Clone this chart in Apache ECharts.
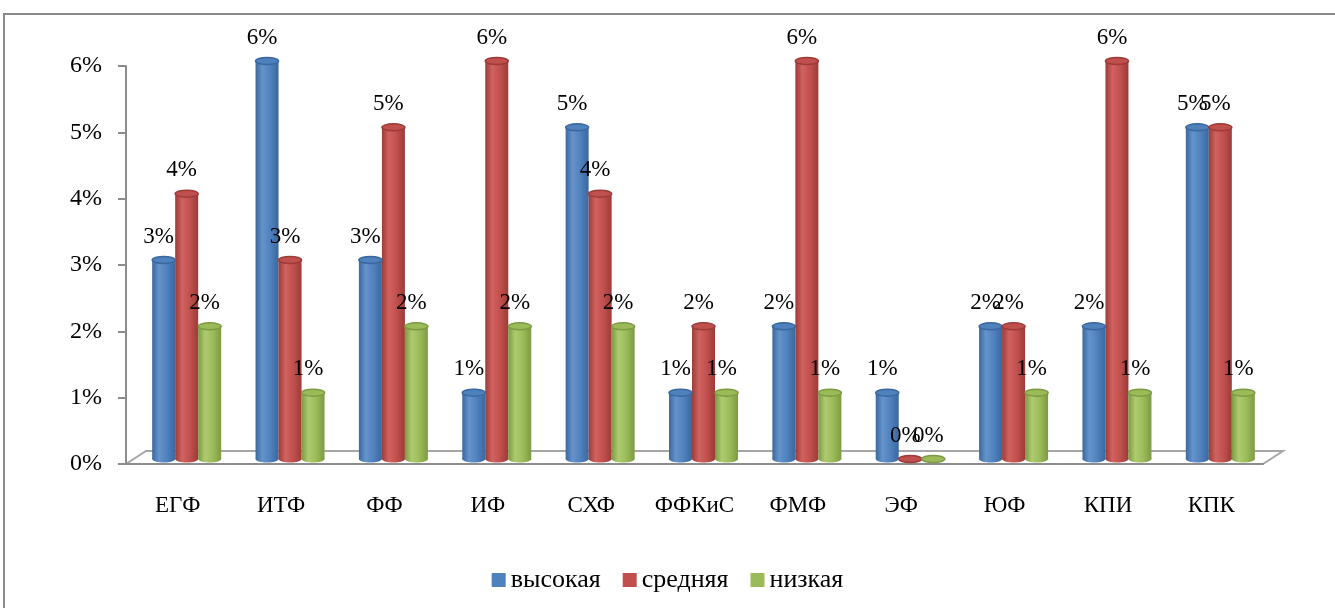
<!DOCTYPE html>
<html>
<head>
<meta charset="utf-8">
<script src="https://cdn.jsdelivr.net/npm/echarts@6/dist/echarts.min.js"></script>
<style>
  html, body { margin: 0; padding: 0; background: #fff; }
  #chart { width: 1335px; height: 608px; }
</style>
</head>
<body>
<div id="chart"></div>
<script>
// faculties
const categories = ['ЕГФ', 'ИТФ', 'ФФ', 'ИФ', 'СХФ', 'ФФКиС', 'ФМФ', 'ЭФ', 'ЮФ', 'КПИ', 'КПК'];
const seriesNames = ['высокая', 'средняя', 'низкая'];
const high = [3, 6, 3, 1, 5, 1, 2, 1, 2, 2, 5];
const mid = [4, 3, 5, 6, 4, 2, 6, 0, 2, 6, 5];
const low = [2, 1, 2, 2, 2, 1, 1, 0, 1, 1, 1];
const yTicks = [0, 1, 2, 3, 4, 5, 6];

const colors = ['#4F81BD', '#C0504D', '#9BBB59'];
const darks = ['#3A679E', '#9C3B38', '#7C9A43'];
const lights = ['#6593CB', '#D0625F', '#AECB6F'];
const font = 'Liberation Serif';
const values = [high, mid, low];
const barW = 23;

const chart = echarts.init(document.getElementById('chart'));

function gradient(i) {
    return new echarts.graphic.LinearGradient(0, 0, 1, 0, [
        { offset: 0, color: darks[i] },
        { offset: 0.3, color: lights[i] },
        { offset: 0.65, color: colors[i] },
        { offset: 1, color: darks[i] }
    ]);
}

const series = [];
values.forEach((data, i) => {
    series.push({
        name: seriesNames[i],
        type: 'bar',
        xAxisIndex: 1,
        yAxisIndex: 1,
        data: data,
        barWidth: barW,
        barGap: '0%',
        itemStyle: { color: gradient(i) },
        label: {
            show: true,
            position: 'top',
            distance: 12,
            offset: [-5, 0],
            formatter: p => p.value + '%',
            fontFamily: font,
            fontSize: 23,
            color: '#000'
        },
        z: 3
    });
});
// cylinder caps: top and bottom ellipses of each bar
values.forEach((data, i) => {
    series.push({
        type: 'custom',
        xAxisIndex: 1,
        yAxisIndex: 1,
        data: data.map((v, k) => [k, v]),
        encode: { x: 0, y: 1 },
        silent: true,
        z: 4,
        renderItem: (params, api) => {
            const top = api.coord([api.value(0), api.value(1)]);
            const base = api.coord([api.value(0), 0]);
            const cx = top[0] + (i - 1) * barW;
            return {
                type: 'group',
                children: [
                    {
                        type: 'ellipse',
                        shape: { cx: cx, cy: base[1], rx: barW / 2, ry: 3.5 },
                        style: { fill: gradient(i) },
                        z2: 1
                    },
                    {
                        type: 'ellipse',
                        shape: { cx: cx, cy: top[1], rx: barW / 2, ry: 3.5 },
                        style: { fill: colors[i], stroke: darks[i], lineWidth: 1.5 },
                        z2: 2
                    }
                ]
            };
        }
    });
});

chart.setOption({
    animation: false,
    legend: {
        data: seriesNames.map((n, i) => ({ name: n, itemStyle: { color: colors[i] } })),
        bottom: 10,
        left: 'center',
        icon: 'rect',
        itemWidth: 14,
        itemHeight: 14,
        itemGap: 22,
        textStyle: { fontFamily: font, fontSize: 26, color: '#000' }
    },
    graphic: [
        {
            type: 'rect',
            shape: { x: 4, y: 14, width: 1400, height: 700 },
            style: { fill: 'none', stroke: '#8a8a8a', lineWidth: 2 },
            silent: true
        },
        {
            type: 'polyline',
            shape: { points: [[126, 464], [146, 451], [1283, 451], [1263, 464]] },
            style: { fill: 'none', stroke: '#a6a6a6', lineWidth: 2 },
            silent: true,
            z: 0
        }
    ],
    grid: [
        { left: 126, right: 72, top: 66, bottom: 144 },
        { left: 135, right: 63, top: 61, bottom: 149 }
    ],
    xAxis: [
        {
            gridIndex: 0,
            type: 'category',
            data: categories,
            axisLine: { lineStyle: { color: '#8c8c8c', width: 2 } },
            axisTick: { length: 8, lineStyle: { color: '#8c8c8c', width: 2 } },
            axisLabel: { margin: 30, fontFamily: font, fontSize: 23, color: '#000' }
        },
        {
            gridIndex: 1,
            type: 'category',
            data: categories,
            show: false
        }
    ],
    yAxis: [
        {
            gridIndex: 0,
            type: 'value',
            min: yTicks[0],
            max: yTicks[yTicks.length - 1],
            interval: 1,
            axisLine: { show: true, lineStyle: { color: '#8c8c8c', width: 2 } },
            axisTick: { show: true, length: 8, lineStyle: { color: '#8c8c8c', width: 2 } },
            splitLine: { show: false },
            axisLabel: {
                margin: 24,
                fontFamily: font,
                fontSize: 24,
                color: '#000',
                formatter: v => v + '%'
            }
        },
        {
            gridIndex: 1,
            type: 'value',
            min: yTicks[0],
            max: yTicks[yTicks.length - 1],
            interval: 1,
            show: false,
            splitLine: { show: false }
        }
    ],
    series: series
});
</script>
</body>
</html>
